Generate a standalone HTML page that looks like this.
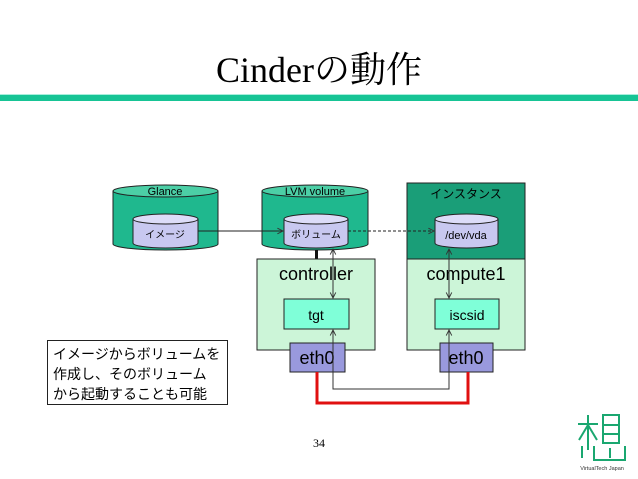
<!DOCTYPE html>
<html><head><meta charset="utf-8"><style>
html,body{margin:0;padding:0;background:#fff;}
svg{display:block;}
.j{font-family:"Liberation Sans","Noto Sans CJK JP",sans-serif;}
</style></head><body>
<svg width="638" height="479" viewBox="0 0 638 479" xmlns="http://www.w3.org/2000/svg">
<defs>
<marker id="ah" viewBox="0 0 10 10" refX="9" refY="5" markerWidth="7" markerHeight="7" orient="auto-start-reverse"><path d="M1,1 L9,5 L1,9" fill="none" stroke="#333" stroke-width="1.3"/></marker>
</defs>
<text x="319" y="82" text-anchor="middle" font-family="'Liberation Serif','Noto Serif CJK SC',serif" font-size="36">Cinderの動作</text>
<rect x="0" y="95" width="638" height="6" fill="#17c495"/>
<rect x="0" y="94" width="638" height="1" fill="#a8eedc"/>

<!-- Glance cylinder -->
<path d="M113,191 L113,244 A52.5,6 0 0 0 218,244 L218,191" fill="#1fb88e" stroke="#222" stroke-width="1"/>
<ellipse cx="165.5" cy="191" rx="52.5" ry="6" fill="#4ccfa6" stroke="#222"/>
<text x="165" y="195" text-anchor="middle" class="j" font-size="11">Glance</text>
<path d="M133,219 L133,243 A32.5,5 0 0 0 198,243 L198,219" fill="#c8c8f0" stroke="#222"/>
<ellipse cx="165.5" cy="219" rx="32.5" ry="5" fill="#dcdcf8" stroke="#222"/>
<text x="165" y="238" text-anchor="middle" class="j" font-size="10">イメージ</text>

<!-- LVM cylinder -->
<path d="M262,191 L262,244 A53,6 0 0 0 368,244 L368,191" fill="#1fb88e" stroke="#222"/>
<ellipse cx="315" cy="191" rx="53" ry="6" fill="#4ccfa6" stroke="#222"/>
<text x="315" y="195" text-anchor="middle" class="j" font-size="11">LVM volume</text>
<path d="M284,219 L284,243 A32,5 0 0 0 348,243 L348,219" fill="#c8c8f0" stroke="#222"/>
<ellipse cx="316" cy="219" rx="32" ry="5" fill="#dcdcf8" stroke="#222"/>
<text x="316" y="238" text-anchor="middle" class="j" font-size="10">ボリューム</text>
<rect x="315" y="250" width="3" height="9" fill="#111"/>

<!-- instance -->
<rect x="407" y="183" width="118" height="76" fill="#1a9e78" stroke="#222"/>
<text x="466" y="198" text-anchor="middle" class="j" font-size="12">インスタンス</text>
<path d="M435,219 L435,243 A31.5,5 0 0 0 498,243 L498,219" fill="#c8c8f0" stroke="#222"/>
<ellipse cx="466.5" cy="219" rx="31.5" ry="5" fill="#dcdcf8" stroke="#222"/>
<text x="466" y="239" text-anchor="middle" class="j" font-size="11">/dev/vda</text>

<!-- controller / compute -->
<rect x="257" y="259" width="118" height="91" fill="#ccf5d8" stroke="#222"/>
<text x="316" y="280" text-anchor="middle" class="j" font-size="18">controller</text>
<rect x="407" y="259" width="118" height="91" fill="#ccf5d8" stroke="#222"/>
<text x="466" y="280" text-anchor="middle" class="j" font-size="18">compute1</text>
<rect x="284" y="299" width="65" height="30" fill="#7fffd8" stroke="#222"/>
<text x="316" y="320" text-anchor="middle" class="j" font-size="14">tgt</text>
<rect x="435" y="299" width="64" height="30" fill="#7fffd8" stroke="#222"/>
<text x="467" y="320" text-anchor="middle" class="j" font-size="14">iscsid</text>
<rect x="290" y="343" width="55" height="29" fill="#9999dd" stroke="#222"/>
<text x="317" y="364" text-anchor="middle" class="j" font-size="18">eth0</text>
<rect x="440" y="343" width="53" height="29" fill="#9999dd" stroke="#222"/>
<text x="466" y="364" text-anchor="middle" class="j" font-size="18">eth0</text>

<!-- connectors -->
<line x1="198" y1="231" x2="283" y2="231" stroke="#222" marker-end="url(#ah)"/>
<line x1="348" y1="231" x2="434" y2="231" stroke="#222" stroke-dasharray="3,2" marker-end="url(#ah)"/>
<line x1="333" y1="249" x2="333" y2="298" stroke="#333" marker-start="url(#ah)" marker-end="url(#ah)"/>
<line x1="449" y1="249" x2="449" y2="298" stroke="#333" marker-start="url(#ah)" marker-end="url(#ah)"/>
<polyline points="333,330 333,389 449,389 449,330" fill="none" stroke="#333" marker-start="url(#ah)" marker-end="url(#ah)"/>
<polyline points="317,372 317,403 468,403 468,372" fill="none" stroke="#e01010" stroke-width="3"/>

<!-- note -->
<rect x="47.5" y="340.5" width="180" height="64" fill="#fff" stroke="#222"/>
<text class="j" font-size="14"><tspan x="53" y="359">イメージからボリュームを</tspan><tspan x="53" y="379">作成し、そのボリューム</tspan><tspan x="53" y="399">から起動することも可能</tspan></text>

<text x="319" y="447" text-anchor="middle" font-family="'Liberation Serif',serif" font-size="12">34</text>

<!-- logo -->
<g stroke="#1aa770" stroke-width="2" fill="none">
<line x1="588" y1="415" x2="588" y2="450"/><line x1="578" y1="424" x2="598" y2="424"/>
<line x1="588" y1="425" x2="579" y2="440"/><line x1="588" y1="425" x2="597" y2="440"/>
<rect x="603" y="415" width="16" height="28"/><line x1="603" y1="425" x2="619" y2="425"/><line x1="603" y1="434" x2="619" y2="434"/>
<line x1="582" y1="446" x2="582" y2="458"/><polyline points="594,446 594,460 625,460 625,446"/><line x1="610" y1="448" x2="610" y2="458"/>
</g>
<text x="602" y="470" text-anchor="middle" font-family="'Liberation Sans',sans-serif" font-size="5.5" fill="#333">VirtualTech Japan</text>
</svg>
</body></html>
